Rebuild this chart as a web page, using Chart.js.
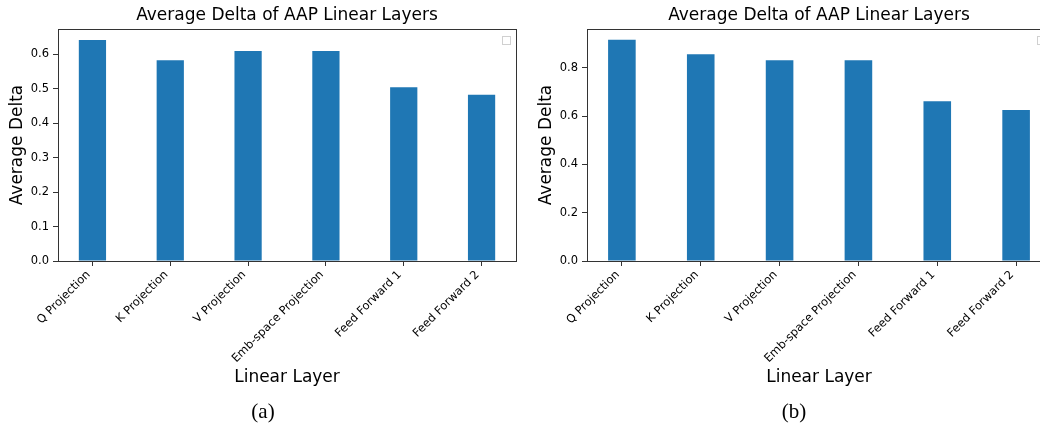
<!DOCTYPE html>
<html>
<head>
<meta charset="utf-8">
<script src="https://cdn.jsdelivr.net/npm/chart.js@4"></script>
<style>
    body { margin: 0; width: 1040px; height: 431px; overflow: hidden; background: #fff; position: relative; }
    canvas { position: absolute; top: 0; }
    #chartA { left: 0; }
    #chartB { left: 529px; }
    .cap { position: absolute; top: 399px; font-family: 'Liberation Serif', 'Times New Roman', serif; font-size: 21px; color: #000; transform: translateX(-50%); }
</style>
</head>
<body>
<canvas id="chartA" width="530" height="400"></canvas>
<canvas id="chartB" width="540" height="400"></canvas>
<div class="cap" style="left:263px">(a)</div>
<div class="cap" style="left:794px">(b)</div>
<script>
// data
const layers = ['Q Projection', 'K Projection', 'V Projection', 'Emb-space Projection', 'Feed Forward 1', 'Feed Forward 2'];
const deltaA = [0.642, 0.583, 0.610, 0.610, 0.505, 0.483];
const deltaB = [0.916, 0.856, 0.831, 0.831, 0.661, 0.625];
const yTicksA = [0, 0.1, 0.2, 0.3, 0.4, 0.5, 0.6];
const yTicksB = [0, 0.2, 0.4, 0.6, 0.8];
const yMaxA = 0.674;
const yMaxB = 0.960;

const FONT = "'DejaVu Sans', sans-serif";
const BAR_W = 0.35;
const X_PAD = BAR_W / 2 + (layers.length - 1 + BAR_W) * 0.05;

// matplotlib style frame + empty legend box
const framePlugin = {
    id: 'frame',
    afterDatasetsDraw(chart) {
        const { ctx, chartArea: a } = chart;
        ctx.save();
        ctx.strokeStyle = '#333';
        ctx.lineWidth = 1;
        ctx.strokeRect(Math.round(a.left) + 0.5, Math.round(a.top) + 0.5, Math.round(a.right - a.left), Math.round(a.bottom - a.top));
        ctx.strokeStyle = '#d0d0d0';
        ctx.strokeRect(Math.round(a.right) - 13.5, Math.round(a.top) + 7.5, 8, 8);
        ctx.restore();
    }
};

function makeChart(id, values, yTicks, yMax, padRight) {
    return new Chart(document.getElementById(id), {
        type: 'bar',
        data: {
            datasets: [{
                data: values.map((v, i) => ({ x: i, y: v })),
                backgroundColor: '#1f77b4',
                borderWidth: 0,
                barPercentage: BAR_W,
                categoryPercentage: 1
            }]
        },
        options: {
            responsive: false,
            animation: false,
            layout: { padding: { left: 0, right: padRight, top: 0, bottom: 0 } },
            plugins: {
                legend: { display: false },
                tooltip: { enabled: false },
                title: {
                    display: true,
                    text: 'Average Delta of AAP Linear Layers',
                    fullSize: false,
                    color: '#000',
                    font: { family: FONT, size: 17, weight: 'normal', lineHeight: 1.2 },
                    padding: { top: 5, bottom: 3.6 }
                }
            },
            scales: {
                x: {
                    type: 'linear',
                    offset: false,
                    min: -X_PAD,
                    max: layers.length - 1 + X_PAD,
                    afterBuildTicks: s => { s.ticks = layers.map((c, i) => ({ value: i })); },
                    afterFit: s => { s.height = 139; },
                    ticks: {
                        autoSkip: false,
                        minRotation: 45,
                        maxRotation: 45,
                        padding: 2,
                        labelOffset: -4,
                        color: '#000',
                        font: { family: FONT, size: 11.5 },
                        callback: v => layers[v]
                    },
                    grid: { display: true, drawOnChartArea: false, drawTicks: true, tickLength: 5, color: '#333', offset: false },
                    border: { display: true, color: '#333' },
                    title: {
                        display: true,
                        text: 'Linear Layer',
                        color: '#000',
                        font: { family: FONT, size: 17, lineHeight: 1.2 },
                        padding: { top: 0, bottom: 12 }
                    }
                },
                y: {
                    min: 0,
                    max: yMax,
                    afterBuildTicks: s => { s.ticks = yTicks.map(v => ({ value: v })); },
                    afterFit: s => { s.width = 58; },
                    ticks: {
                        includeBounds: false,
                        padding: 4,
                        color: '#000',
                        font: { family: FONT, size: 11.5 },
                        callback: v => v.toFixed(1)
                    },
                    grid: { display: true, drawOnChartArea: false, drawTicks: true, tickLength: 5, color: '#333' },
                    border: { display: true, color: '#333' },
                    title: {
                        display: true,
                        text: 'Average Delta',
                        color: '#000',
                        font: { family: FONT, size: 17, lineHeight: 1.2 },
                        padding: { top: 7, bottom: 0 }
                    }
                }
            }
        },
        plugins: [framePlugin]
    });
}

makeChart('chartA', deltaA, yTicksA, yMaxA, 14);
makeChart('chartB', deltaB, yTicksB, yMaxB, 18);
</script>
</body>
</html>
